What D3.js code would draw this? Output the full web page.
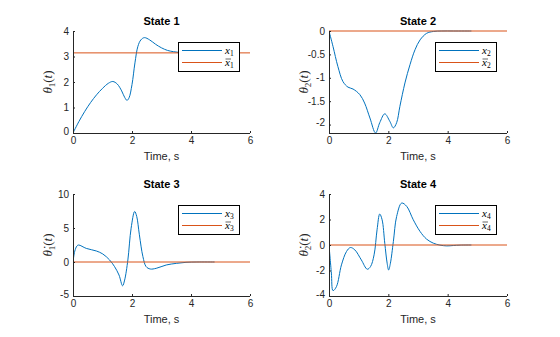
<!DOCTYPE html>
<html>
<head>
<meta charset="utf-8">
<script src="https://cdn.jsdelivr.net/npm/d3@7"></script>
<style>
  html, body { margin: 0; padding: 0; background: #fff; }
  svg { display: block; font-family: "Liberation Sans", Arial, sans-serif; }
</style>
</head>
<body>
<svg id="chart" width="560" height="337"></svg>
<script>
// Time samples (s) and state trajectories
const time1 = [0, 0.2, 0.4, 0.6, 0.8, 1.0, 1.2, 1.35, 1.5, 1.65, 1.75, 1.83, 1.9, 2.0, 2.1, 2.2, 2.3, 2.42, 2.6, 2.8, 3.0, 3.2, 3.4, 3.6, 3.8, 4.0, 4.4, 4.8];
const state1 = [0, 0.45, 0.85, 1.2, 1.5, 1.75, 1.95, 2.02, 1.92, 1.65, 1.4, 1.28, 1.38, 1.9, 2.75, 3.4, 3.65, 3.74, 3.65, 3.48, 3.34, 3.24, 3.19, 3.16, 3.15, 3.145, 3.142, 3.1416];

const time2 = [0, 0.135, 0.3, 0.47, 0.64, 0.81, 1.04, 1.2, 1.38, 1.57, 1.71, 1.88, 2.05, 2.17, 2.28, 2.39, 2.56, 2.73, 2.9, 3.07, 3.29, 3.52, 3.8, 4.2, 4.8];
const state2 = [0, -0.33, -0.76, -1.08, -1.2, -1.24, -1.36, -1.54, -1.86, -2.18, -1.96, -1.77, -1.93, -2.07, -1.96, -1.61, -1.11, -0.72, -0.4, -0.19, -0.05, -0.01, 0, 0, 0];

const time3 = [0, 0.06, 0.135, 0.19, 0.45, 0.79, 1.01, 1.24, 1.41, 1.56, 1.68, 1.75, 1.86, 1.97, 2.09, 2.16, 2.25, 2.37, 2.48, 2.62, 2.82, 3.16, 3.5, 3.83, 4.2, 4.8];
const state3 = [0, 1.6, 2.36, 2.5, 2.0, 1.62, 1.18, 0.3, -0.69, -1.92, -3.5, -2.66, 0.3, 4.97, 7.43, 6.7, 4.0, 0.79, -0.69, -1.03, -0.93, -0.44, -0.2, -0.05, 0, 0];

const time4 = [0, 0.08, 0.135, 0.25, 0.42, 0.59, 0.72, 0.87, 1.09, 1.29, 1.4, 1.52, 1.62, 1.71, 1.79, 1.88, 1.96, 2.01, 2.07, 2.17, 2.28, 2.45, 2.62, 2.84, 3.07, 3.29, 3.52, 3.74, 3.97, 4.19, 4.42, 4.8];
const state4 = [0, -2.2, -3.58, -3.27, -1.56, -0.51, -0.2, -0.38, -1.17, -1.9, -1.69, -0.77, 1.19, 2.43, 1.98, 0.14, -1.43, -1.96, -1.43, 0.28, 2.24, 3.29, 3.03, 1.98, 1.06, 0.46, 0.14, -0.01, -0.07, -0.04, -0.01, 0];

// Reference (target) values for each state
const targets = [Math.PI, 0, 0, 0];

// Axis ranges and tick labels
const xTicks = [0, 2, 4, 6];
const yDomains = [[0, 4], [-2.18, 0], [-5, 10], [-4, 4]];
const yTicks = [[0, 1, 2, 3, 4], [-2, -1.5, -1, -0.5, 0], [-5, 0, 5, 10], [-4, -2, 0, 2, 4]];
const titles = ["State 1", "State 2", "State 3", "State 4"];
const yLabelBase = [["θ", "1", false], ["θ", "2", false], ["θ", "1", true], ["θ", "2", true]];

const times = [time1, time2, time3, time4];
const states = [state1, state2, state3, state4];

const BLUE = "#0072BD", ORANGE = "#D95319", INK = "#262626";

// Panel frames (left, right, top, bottom)
const frames = [
  [73, 250, 31, 133],
  [329, 507, 31, 133],
  [73, 250, 194, 296],
  [329, 507, 194, 296]
];

const svg = d3.select("#chart");
const fmt = d => String(d);

frames.forEach((f, i) => {
  const [L, R, T, B] = f;
  const x = d3.scaleLinear().domain([0, 6]).range([L, R]);
  const y = d3.scaleLinear().domain(yDomains[i]).range([B, T]);
  const g = svg.append("g");

  const clipId = "clip" + i;
  svg.append("clipPath").attr("id", clipId)
    .append("rect").attr("x", L).attr("y", T - 1).attr("width", R - L).attr("height", B - T + 1.5);

  // trajectory
  const pts = times[i].map((t, k) => [t, states[i][k]]);
  const line = d3.line().x(d => x(d[0])).y(d => y(d[1])).curve(d3.curveCatmullRom.alpha(0.5));
  g.append("path").attr("d", line(pts))
    .attr("fill", "none").attr("stroke", BLUE).attr("stroke-width", 1)
    .attr("clip-path", `url(#${clipId})`);

  // target
  g.append("path").attr("d", d3.line()([[x(0), y(targets[i])], [x(6), y(targets[i])]]))
    .attr("fill", "none").attr("stroke", ORANGE).attr("stroke-width", 1)
    .attr("clip-path", `url(#${clipId})`);

  // axes
  const xa = d3.axisBottom(x).tickValues(xTicks).tickSizeInner(-2).tickSizeOuter(0).tickPadding(4).tickFormat(fmt);
  const ya = d3.axisLeft(y).tickValues(yTicks[i]).tickSizeInner(-2).tickSizeOuter(0).tickPadding(4).tickFormat(fmt);
  const gx = g.append("g").attr("transform", `translate(0,${B})`).call(xa);
  const gy = g.append("g").attr("transform", `translate(${L},0)`).call(ya);
  [gx, gy].forEach(a => {
    a.select(".domain").attr("stroke", INK).attr("stroke-width", 1);
    a.selectAll(".tick line").attr("stroke", INK);
    a.selectAll(".tick text").attr("fill", INK).style("font-size", "10px")
      .style("font-family", "'Liberation Sans', Arial, sans-serif");
  });
  gy.select(".domain").attr("d", `M0.5,${T}V${B}`);
  gx.select(".domain").attr("d", `M${L},0.5H${R}`);
  // lift the bottom y label a touch so it sits beside the corner
  gy.selectAll(".tick text").filter(d => d === yTicks[i][0]).attr("dy", "0.1em");

  // title
  g.append("text").attr("x", (L + R) / 2).attr("y", T - 6)
    .attr("text-anchor", "middle").attr("fill", "#000")
    .style("font-size", "11px").style("font-weight", "bold").text(titles[i]);

  // x label
  g.append("text").attr("x", (L + R) / 2).attr("y", B + 27)
    .attr("text-anchor", "middle").attr("fill", INK)
    .style("font-size", "11px").text("Time, s");

  // y label
  const [sym, sub, dotted] = yLabelBase[i];
  const yl = g.append("text")
    .attr("transform", `translate(${L - 21},${(T + B) / 2}) rotate(-90)`)
    .attr("text-anchor", "middle").attr("fill", INK)
    .style("font-family", "'Liberation Serif', 'Times New Roman', serif")
    .style("font-size", "13px");
  yl.append("tspan").style("font-style", "italic").text(dotted ? sym + "\u0307" : sym);
  yl.append("tspan").attr("dy", 3).style("font-size", "9px").text(sub);
  yl.append("tspan").attr("dy", -3).text("(");
  yl.append("tspan").style("font-style", "italic").text("t");
  yl.append("tspan").text(")");

  // legend
  const lx = R - 72, ly = T + 11, lw = 61, lh = 29;
  const lg = g.append("g");
  lg.append("rect").attr("x", lx + 0.5).attr("y", ly + 0.5).attr("width", lw).attr("height", lh)
    .attr("fill", "#fff").attr("stroke", "#000").attr("stroke-width", 1);
  const rows = [[BLUE, false], [ORANGE, true]];
  rows.forEach(([c, bar], r) => {
    const yy = ly + 8.5 + r * 12;
    lg.append("line").attr("x1", lx + 4).attr("x2", lx + 44).attr("y1", yy).attr("y2", yy)
      .attr("stroke", c).attr("stroke-width", 1);
    const tx = lx + 47;
    const tt = lg.append("text").attr("x", tx).attr("y", yy + 3.5).attr("fill", "#000")
      .style("font-family", "'Liberation Serif', 'Times New Roman', serif").style("font-size", "11px");
    tt.append("tspan").style("font-style", "italic").text("x");
    tt.append("tspan").attr("dy", 2).style("font-size", "7.5px").text(String(i + 1));
    if (bar) {
      lg.append("line").attr("x1", tx + 0.5).attr("x2", tx + 6).attr("y1", yy - 3.5).attr("y2", yy - 3.5)
        .attr("stroke", "#000").attr("stroke-width", 0.6);
    }
  });
});
</script>
</body>
</html>
